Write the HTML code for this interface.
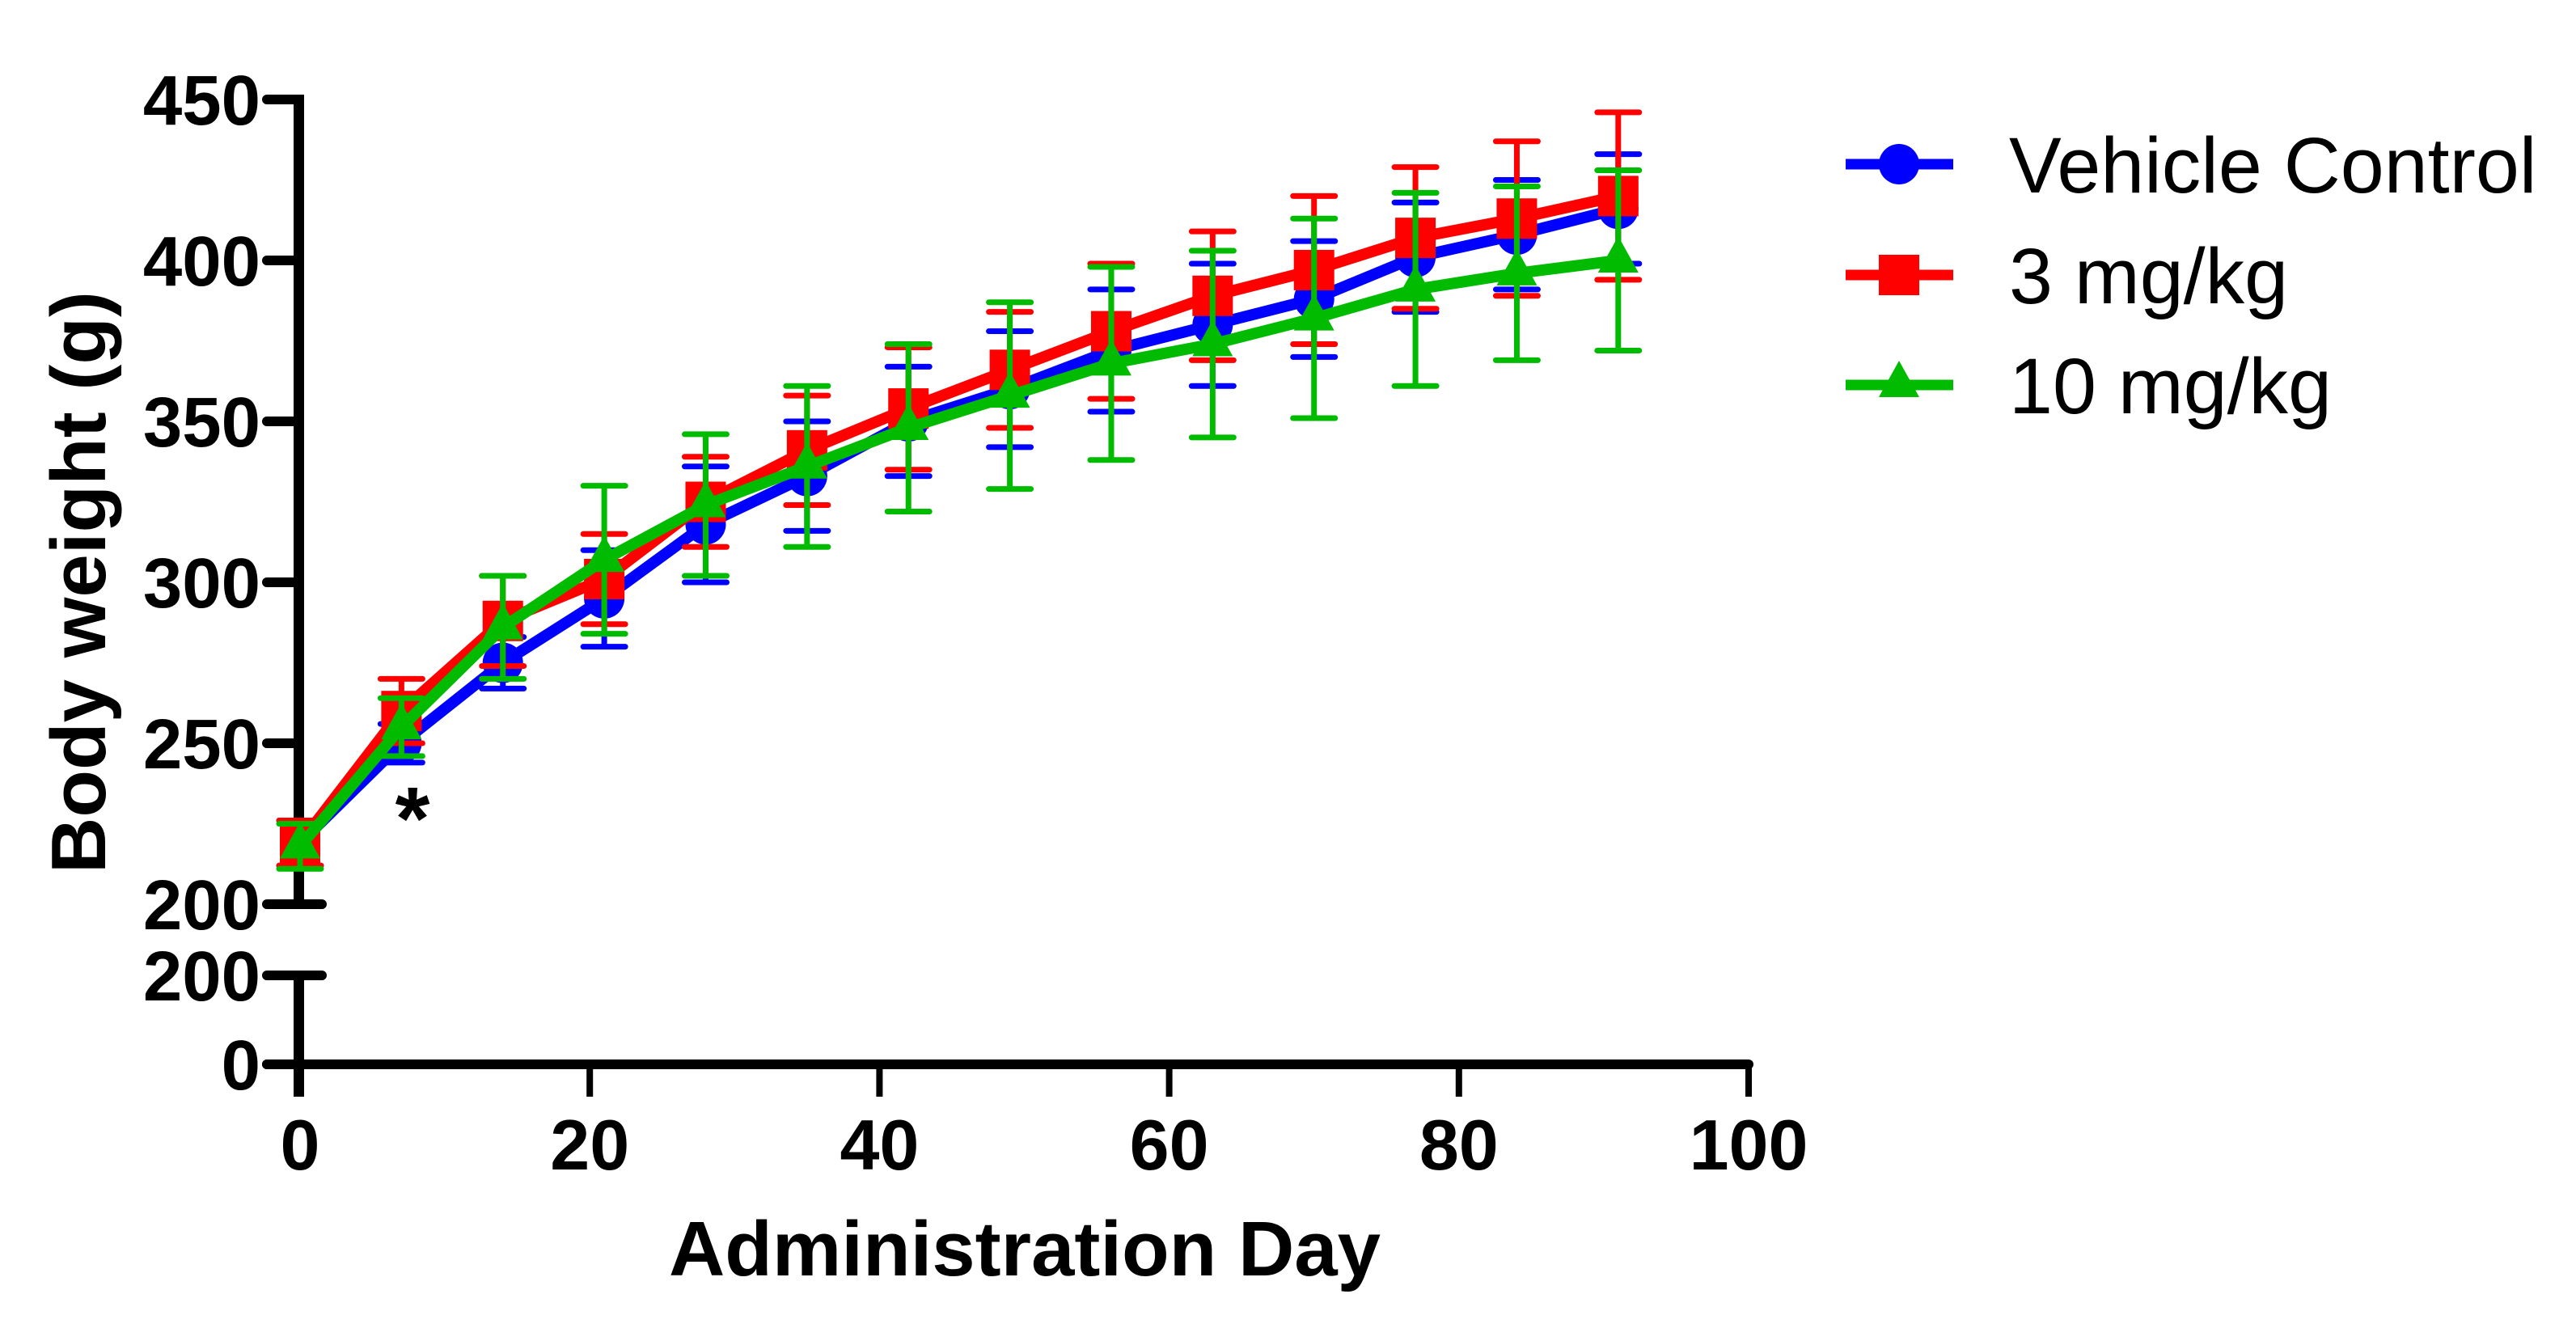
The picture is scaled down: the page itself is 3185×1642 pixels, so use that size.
<!DOCTYPE html>
<html><head><meta charset="utf-8"><style>
html,body{margin:0;padding:0;background:#fff;}
svg{display:block;}
text{font-family:"Liberation Sans",Arial,sans-serif;}
</style></head><body>
<svg id="chart" width="3185" height="1642" viewBox="0 0 3185 1642" xmlns="http://www.w3.org/2000/svg">
<g id="axes"></g>
<g id="series"></g>
<text x="510" y="1050" font-size="110" font-weight="bold" text-anchor="middle">*</text>
<text transform="translate(130,720) rotate(-90)" font-size="96" font-weight="bold" text-anchor="middle">Body weight (g)</text>
<text x="1267" y="1577" font-size="96" font-weight="bold" text-anchor="middle">Administration Day</text>
<g id="legend"></g>
</svg>
<script>
const days = [0,7,14,21,28,35,42,49,56,63,70,77,84,91];
const vehicleMean = [219,250,275,295,318,333,350,360,372,380,388,401,408,416];
const vehicleErr  = [7,6,8,15,18,17,17,18,19,19,18,17,17,17];
const mg3Mean = [219,260,288,301,325,341,354,366,378,389,397,407,413,420];
const mg3Err  = [7,10,14,14,14,17,19,18,21,20,23,22,24,26];
const mg10Mean = [218,255,286,307,324,336,348,358,368,374,382,391,396,400];
const mg10Err  = [7,9,16,23,22,25,26,29,30,29,31,30,27,28];
const seriesNames = ["Vehicle Control","3 mg/kg","10 mg/kg"];
const xTicks = [0,20,40,60,80,100];
const yTicksUpper = [200,250,300,350,400,450];
const yTicksLower = [0,200];

const NS = "http://www.w3.org/2000/svg";
function xs(d){ return 371 + d*17.91; }
function ys(v){ return 322 + (400 - v)*3.98; }
function ysLow(v){ return 1316 - v*(110/200); }
function mk(tag, attrs, parent){
  const e = document.createElementNS(NS, tag);
  for (const k in attrs) e.setAttribute(k, attrs[k]);
  parent.appendChild(e); return e;
}
const axes = document.getElementById('axes');
let l = mk('line',{x1:369.5,y1:ys(450)-6,x2:369.5,y2:ys(200),stroke:'#000','stroke-width':13},axes);


l = mk('line',{x1:369.5,y1:ysLow(200),x2:369.5,y2:1356,stroke:'#000','stroke-width':13},axes);


l = mk('line',{x1:330,y1:1316,x2:2162,y2:1316,stroke:'#000','stroke-width':12,'stroke-linecap':'round'},axes);


yTicksUpper.forEach(v=>{
  const y = ys(v);
  const x2 = v===200 ? 398 : 369;
  const t = mk('line',{x1:330,y1:y,x2:x2,y2:y,stroke:'#000','stroke-width':12,'stroke-linecap':'round'},axes);
  
  
  const tx = mk('text',{x:322,y:y+31,'font-size':87,'font-weight':'bold','text-anchor':'end'},axes);
  tx.textContent = v;
  
  
});
yTicksLower.forEach(v=>{
  const y = ysLow(v);
  const x2 = v===200 ? 398 : 369;
  const t = mk('line',{x1:330,y1:y,x2:x2,y2:y,stroke:'#000','stroke-width':12,'stroke-linecap':'round'},axes);
  
  
  const tx = mk('text',{x:322,y:y+31,'font-size':87,'font-weight':'bold','text-anchor':'end'},axes);
  tx.textContent = v;
  
  
});
xTicks.forEach(d=>{
  const x = xs(d);
  const t = mk('line',{x1:x,y1:1316,x2:x,y2:1356,stroke:'#000','stroke-width':8},axes);
  
  
  const tx = mk('text',{x:x,y:1446,'font-size':88,'font-weight':'bold','text-anchor':'middle'},axes);
  tx.textContent = d;
  
  
});

const colors = ['#0000ff','#ff0000','#00bb00'];
const means = [vehicleMean, mg3Mean, mg10Mean];
const errs = [vehicleErr, mg3Err, mg10Err];
const shapes = ['circle','square','triangle'];
function marker(shape, cx, cy, color, parent){
  let m;
  if (shape==='circle') m = mk('ellipse',{cx:cx,cy:cy,rx:25,ry:25,fill:color},parent);
  else if (shape==='square') m = mk('rect',{x:cx-25,y:cy-25,width:50,height:50,fill:color},parent);
  else m = mk('polygon',{points:`${cx},${cy-30} ${cx+25},${cy+15} ${cx-25},${cy+15}`,fill:color},parent);
  return m;
}
const sg = document.getElementById('series');
means.forEach((arr, si)=>{
  const g = mk('g',{},sg);
  
  
  arr.forEach((v,i)=>{
    const x = xs(days[i]), e = errs[si][i];
    const eb = mk('path',{d:`M${x},${ys(v+e)}V${ys(v-e)}M${x-26},${ys(v+e)}H${x+26}M${x-26},${ys(v-e)}H${x+26}`,stroke:colors[si],'stroke-width':7,'stroke-linecap':'round',fill:'none'},g);
    
    
  });
  const pts = arr.map((v,i)=>xs(days[i])+','+ys(v)).join(' ');
  const pl = mk('polyline',{points:pts,fill:'none',stroke:colors[si],'stroke-width':14,'stroke-linejoin':'round'},g);
  
  
  arr.forEach((v,i)=>{
    const m = marker(shapes[si], xs(days[i]), ys(v), colors[si], g);
    
    
  });
});
const lg = document.getElementById('legend');
const legY = [203,340,476];
seriesNames.forEach((n,i)=>{
  const g = mk('g',{},lg);
  
  
  mk('line',{x1:2282,y1:legY[i],x2:2415,y2:legY[i],stroke:colors[i],'stroke-width':13},g);
  marker(shapes[i], 2348, legY[i], colors[i], g);
  const t = mk('text',{x:2484,y:legY[i]+35,'font-size':97},g);
  t.textContent = n;
  
  
});
</script>
</body></html>
